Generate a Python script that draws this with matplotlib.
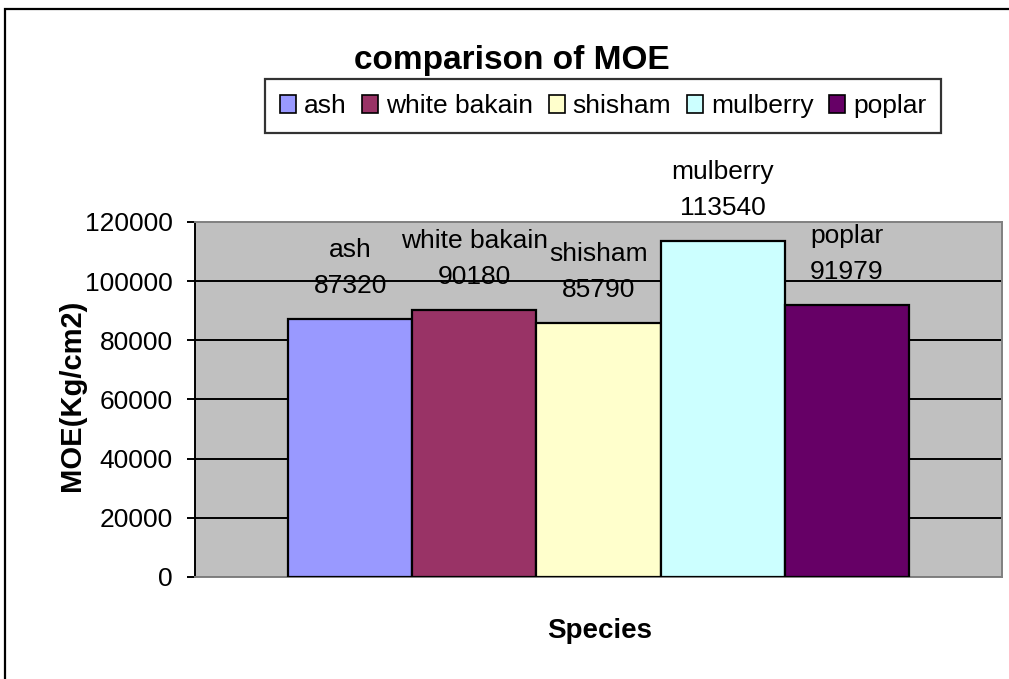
import matplotlib
matplotlib.use("Agg")
import matplotlib.pyplot as plt
import matplotlib.patches as mpatches

plt.rcParams['font.family'] = ['Liberation Sans', 'DejaVu Sans']

# data
species = ["ash", "white bakain", "shisham", "mulberry", "poplar"]
moe = [87320, 90180, 85790, 113540, 91979]
colors = ["#9999FF", "#993366", "#FFFFCC", "#CCFFFF", "#660066"]
yticks = [0, 20000, 40000, 60000, 80000, 100000, 120000]

W, H = 1009, 679
fig = plt.figure(figsize=(W / 100, H / 100), dpi=100)

# outer chart border (runs off the right and bottom)
fig.patches.append(mpatches.Rectangle((5 / W, -0.1), 1.2, 1.1 - 9 / H,
                                      transform=fig.transFigure, fill=False,
                                      edgecolor="black", linewidth=1.6))

ax = fig.add_axes([195 / W, 1 - 577 / H, 807 / W, 355 / H])
ax.set_facecolor("#C0C0C0")

# excel style: one category, gap width 150%
gap = 1.5
w = 1 / (len(species) + gap)
x0 = gap / 2 * w
xs = [x0 + w * (i + 0.5) for i in range(len(species))]

ax.set_axisbelow(True)
ax.yaxis.grid(True, color="black", linewidth=1.4)
bars = ax.bar(xs, moe, width=w, color=colors, edgecolor="black",
              linewidth=1.6, zorder=3)

for x, v, name in zip(xs, moe, species):
    ax.annotate(f"{name}\n{v}", (x, v), xytext=(0, 21),
                textcoords="offset pixels", ha="center", va="bottom",
                fontsize=19, linespacing=1.62, annotation_clip=False, zorder=5)

ax.set_xlim(0, 1)
ax.set_ylim(0, 120000)
ax.set_yticks(yticks)
ax.set_yticklabels([str(t) for t in yticks], fontsize=19)
ax.set_xticks([])
ax.tick_params(axis="y", direction="out", length=6, width=1.4, pad=10)
for s in ["top", "right", "bottom"]:
    ax.spines[s].set_color("#808080")
    ax.spines[s].set_linewidth(1.4)
ax.spines["left"].set_color("black")
ax.spines["left"].set_linewidth(1.4)
# hide the top gridline at 120000
ax.yaxis.get_gridlines()[-1].set_visible(False)

fig.text(512 / W, 1 - 69 / H, "comparison of MOE", ha="center",
         va="baseline", fontsize=24, fontweight="bold")
fig.text(72 / W, 1 - 395 / H, "MOE(Kg/cm2)", ha="center", va="center",
         rotation=90, fontsize=21, fontweight="bold")
fig.text(600 / W, 1 - 638 / H, "Species", ha="center", va="baseline",
         fontsize=20, fontweight="bold")

handles = [mpatches.Patch(facecolor=c, edgecolor="black", linewidth=1.2)
           for c in colors]
leg = fig.legend(handles, species, loc="center",
                 bbox_to_anchor=(603 / W, 1 - 106 / H), ncol=5, fontsize=19,
                 frameon=True, fancybox=False, handlelength=0.6,
                 handleheight=0.65, handletextpad=0.3, columnspacing=0.6,
                 borderpad=0.55, borderaxespad=0)
leg.get_frame().set_edgecolor("black")
leg.get_frame().set_linewidth(1.6)

fig.savefig("out.png", dpi=100)
